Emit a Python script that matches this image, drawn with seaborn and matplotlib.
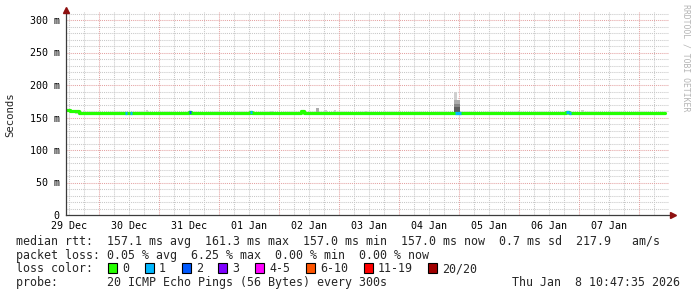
import numpy as np
import pandas as pd
import matplotlib
matplotlib.use("Agg")
import matplotlib.pyplot as plt
import seaborn as sns
from matplotlib.patches import Rectangle

# ---------------- data (hours since 29 Dec 00:00) ----------------
seg_start_h = [10.8, 12.4, 16.0, 34.4, 35.0, 36.4, 37.2, 60.0, 60.8, 84.4, 85.2,
               104.8, 106.0, 166.4, 168.8, 210.8, 212.0, 212.8]
seg_end_last_h = 250.4
seg_rtt_ms = [161.3, 160.0, 157.0, 157.0, 157.0, 157.0, 157.0, 158.6, 157.0, 158.0, 157.0,
              159.5, 157.0, 157.0, 157.0, 159.0, 157.0, 157.0]
seg_loss = [0, 0, 0, 1, 0, 1, 0, 2, 0, 1, 0, 0, 0, 1, 0, 1, 1, 0]

# smoke (spread of the 20 pings) – start/end hour, top value, density level (0 light .. 3 dark)
smoke_start_h = [14.4, 42.8, 92.4, 110.8, 114.0, 118.0, 130.4, 166.0, 166.0, 166.0, 166.0,
                 191.6, 216.8, 238.8]
smoke_end_h = [16.0, 43.6, 94.0, 111.8, 115.2, 118.8, 131.2, 167.3, 168.2, 168.2, 168.2,
               192.4, 218.0, 239.6]
smoke_top_ms = [161.5, 162.0, 160.0, 164.5, 161.0, 161.0, 160.5, 189.0, 177.0, 171.0, 166.0,
                159.5, 161.0, 159.0]
smoke_level = [0, 0, 0, 1, 0, 0, 0, 0, 1, 2, 3, 0, 0, 0]

day_labels = ["29 Dec", "30 Dec", "31 Dec", "01 Jan", "02 Jan", "03 Jan",
              "04 Jan", "05 Jan", "06 Jan", "07 Jan"]
y_ticks_ms = [0, 50, 100, 150, 200, 250, 300]
y_tick_labels = ["0", "50 m", "100 m", "150 m", "200 m", "250 m", "300 m"]

loss_labels = ["0", "1", "2", "3", "4-5", "6-10", "11-19", "20/20"]
loss_colors = ["#26ff00", "#00b8ff", "#0059ff", "#7e00ff", "#ff00ff", "#ff5500", "#ff0000", "#a00000"]

line_rtt = "median rtt:  157.1 ms avg  161.3 ms max  157.0 ms min  157.0 ms now  0.7 ms sd  217.9   am/s"
line_loss = "packet loss: 0.05 % avg  6.25 % max  0.00 % min  0.00 % now"
line_probe = "probe:       20 ICMP Echo Pings (56 Bytes) every 300s"
stamp = "Thu Jan  8 10:47:35 2026"

# ---------------- figure ----------------
sns.set_style("white")
plt.rcParams['font.family'] = ['DejaVu Sans Mono', 'DejaVu Sans']

W, H = 697, 297
fig = plt.figure(figsize=(W / 100, H / 100), dpi=100)
fx = lambda px: px / W
fy = lambda py: 1 - py / H

x0_h = 10.78
px_per_h = 2.5
ax = fig.add_axes([fx(66), fy(215), fx(669) - fx(66), fy(12) - fy(215)])
ax.set_xlim(x0_h, x0_h + 603 / px_per_h)
ax.set_ylim(0, 203 / 0.65)

# grid
dot = (0, (1, 1))
hmax = x0_h + 603 / px_per_h
minor_v = [h for h in np.arange(6, hmax, 6) if h % 24 != 0 and h > x0_h]
major_v = [h for h in np.arange(24, hmax, 24)]
gkw = dict(lw=0.75, linestyles=dot)
ax.vlines(minor_v, 0, 1, transform=ax.get_xaxis_transform(), colors="#c8c8c8", zorder=0, **gkw)
minor_h = [v for v in range(10, 311, 10) if v % 50 != 0]
ax.hlines(minor_h, 0, 1, transform=ax.get_yaxis_transform(), colors="#c8c8c8", zorder=0, **gkw)
ax.vlines(major_v, 0, 1, transform=ax.get_xaxis_transform(), colors="#e4a2a2", zorder=0.5, **gkw)
ax.hlines([50, 100, 150, 200, 250, 300], 0, 1, transform=ax.get_yaxis_transform(), colors="#e4a2a2",
          zorder=0.5, **gkw)

# smoke
shades = ["#cfcfcf", "#ababab", "#868686", "#5e5e5e"]
for s, e, t, lv in zip(smoke_start_h, smoke_end_h, smoke_top_ms, smoke_level):
    ax.bar(s, t - 155.0, bottom=155.0, width=e - s, align="edge", color=shades[lv], linewidth=0, zorder=1)

# median line (step) in loss colours
seg_end_h = seg_start_h[1:] + [seg_end_last_h]
df = pd.DataFrame({"h": seg_start_h + [seg_end_last_h], "rtt": seg_rtt_ms + [seg_rtt_ms[-1]]})
sns.lineplot(data=df, x="h", y="rtt", drawstyle="steps-post", color="#26ff00", lw=2.3, ax=ax, zorder=2)


def loss_idx(n):
    if n <= 3:
        return n
    if n <= 5:
        return 4
    if n <= 10:
        return 5
    if n <= 19:
        return 6
    return 7


for s, e, r, l in zip(seg_start_h, seg_end_h, seg_rtt_ms, seg_loss):
    if l > 0:
        ax.hlines(r, s, e, colors=loss_colors[loss_idx(l)], lw=2.3, zorder=3)

# axes styling
ax.set_xlabel("")
ax.set_ylabel("")
for side in ["top", "right"]:
    ax.spines[side].set_visible(False)
for side in ["left", "bottom"]:
    ax.spines[side].set_color("#3c3c3c")
    ax.spines[side].set_linewidth(0.9)
ax.set_xticks([12 + 24 * i for i in range(len(day_labels))], day_labels)
ax.set_yticks(y_ticks_ms, y_tick_labels)
ax.tick_params(axis="x", length=0, pad=4.0, labelsize=7.2, colors="black")
ax.tick_params(axis="y", length=2.2, width=0.7, pad=2.3, labelsize=7.2, colors="black")
ax.tick_params(axis="y", color="#555555")

# arrows
ax.plot([0], [1 + 2 / 203], marker="^", markersize=4.0, color="#8e1010", transform=ax.transAxes, clip_on=False, zorder=5)
ax.plot([1 + 4 / 603], [0], marker=">", markersize=4.0, color="#8e1010", transform=ax.transAxes, clip_on=False, zorder=5)

# labels
fig.text(fx(10.7), fy(114.5), "Seconds", rotation=90, ha="center", va="center", fontsize=7.7)
fig.text(fx(686), fy(4), "RRDTOOL / TOBI OETIKER", rotation=270, ha="center", va="top",
         fontsize=5.9, color="#b4b4b4")

fs = 8.4
fig.text(fx(16), fy(241.7), line_rtt, ha="left", va="center", fontsize=fs)
fig.text(fx(16), fy(255.2), line_loss, ha="left", va="center", fontsize=fs)
fig.text(fx(16), fy(269.0), "loss color:", ha="left", va="center", fontsize=fs)
fig.text(fx(16), fy(282.7), line_probe, ha="left", va="center", fontsize=fs)
fig.text(fx(680), fy(282.7), stamp, ha="right", va="center", fontsize=fs)

bx = 108.3
for lab, col in zip(loss_labels, loss_colors):
    fig.patches.append(Rectangle((fx(bx), fy(273.0)), 9 / W, 10 / H, transform=fig.transFigure,
                                 facecolor=col, edgecolor="black", lw=0.8))
    fig.text(fx(bx + 14), fy(269.0), lab, ha="left", va="center", fontsize=fs)
    bx += 29.7 + 7.0 * len(lab)

fig.savefig("out.png", dpi=100)
